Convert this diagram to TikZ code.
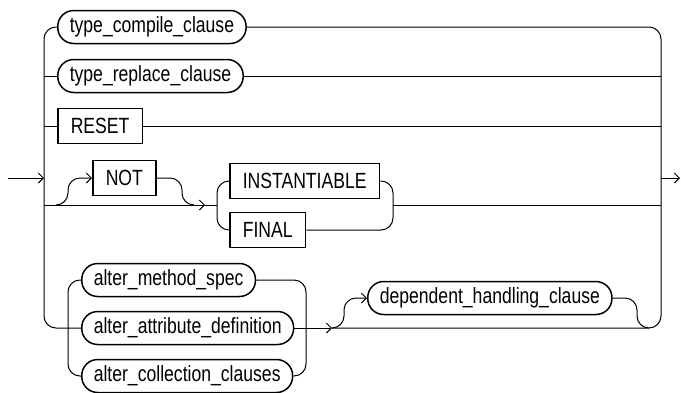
\documentclass[tikz,border=0pt]{standalone}
\usepackage{fontspec}
\setmainfont{Liberation Sans}[FakeStretch=0.8]
\usetikzlibrary{arrows.meta, positioning}

\begin{document}
\begin{tikzpicture}[
      x=1pt, y=-1pt,
      kw/.style={draw, line width=1.5pt, minimum height=35pt, inner xsep=13pt,
                 inner ysep=0pt, anchor=west, font=\fontsize{22}{25}\selectfont},
      clause/.style={kw, rounded corners=16pt, minimum height=33pt, inner xsep=12pt},
      rail/.style={line width=1pt, rounded corners=12pt},
      arr/.style={-{Straight Barb[length=5pt, width=10pt, line width=1pt]}}
    ]
    \useasboundingbox (0,0) rectangle (681,392);

    \node[clause] (tcc)    at (57,27)  {type\_compile\_clause};
    \node[clause] (trc)    at (57,76)  {type\_replace\_clause};
    \node[kw]     (reset)  at (57,126) {RESET};
    \node[kw]     (not)    at (92,178) {NOT};
    \node[kw]     (inst)   at (229,181) {INSTANTIABLE};
    \node[kw]     (final)  at (229,230) {FINAL};
    \node[clause] (ams)    at (81,280) {alter\_method\_spec};
    \node[clause] (aad)    at (81,328) {alter\_attribute\_definition};
    \node[clause] (acc)    at (81,376) {alter\_collection\_clauses};
    \node[clause] (dhc)    at (367,298) {dependent\_handling\_clause};

    \coordinate (ent) at (8,178);
    \coordinate (ext) at (680,178);

    \draw[rail, arr] (ent) -- (44,178);
    \draw[rail] (tcc.west) -- (44,27) -- (44,328) -- (aad.west);
    \draw[rail] (44,76) -- (trc.west);
    \draw[rail] (44,126) -- (reset.west);

    \draw[rail] (tcc.east) -- (661,27) -- (661,328) -- (332,328);
    \draw[rail] (trc.east) -- (661,76);
    \draw[rail] (reset.east) -- (661,126);
    \draw[rail, arr] (661,178) -- (ext);

    \draw[rail, arr] (44,205) -- (205,205);
    \draw[rail] (205,205) -- (217,205);
    \draw[rail, arr] (56,205) -- (68,205) -- (68,178) -- (not.west);
    \draw[rail] (not.east) -- (182,178) -- (182,205) -- (194,205);
    \draw[rail] (inst.west) -- (217,181) -- (217,230) -- (final.west);
    \draw[rail] (inst.east) -- (393,181) -- (393,230) -- (final.east);
    \draw[rail] (393,205) -- (661,205);

    \draw[rail] (ams.west) -- (68,280) -- (68,376) -- (acc.west);
    \draw[rail] (ams.east) -- (306,280) -- (306,376) -- (acc.east);
    \draw[rail, arr] (aad.east) -- (332,328);
    \draw[rail, arr] (332,328) -- (344,328) -- (344,298) -- (dhc.west);
    \draw[rail] (dhc.east) -- (637,298) -- (637,328) -- (649,328);
  \end{tikzpicture}
\end{document}
